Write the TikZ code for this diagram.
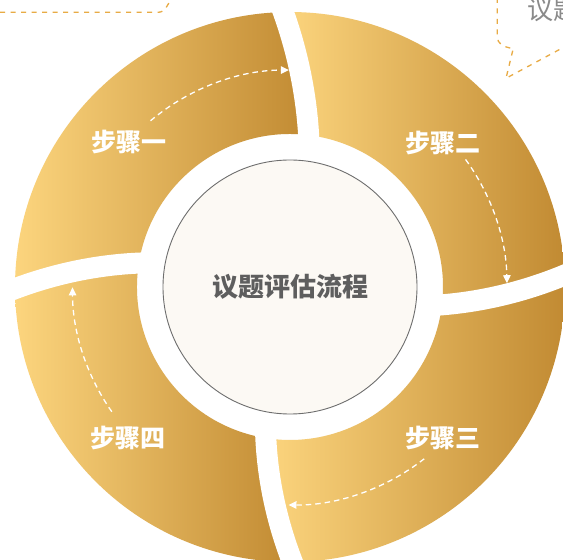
\documentclass[tikz,border=0pt]{standalone}
\usepackage{fontspec}
\newfontfamily\cjk{Noto Sans CJK SC}
\usetikzlibrary{arrows.meta}
\definecolor{segL}{HTML}{FCD57E}
\definecolor{segD}{HTML}{C18A32}
\definecolor{coreFill}{HTML}{FCF9F4}
\definecolor{coreLine}{HTML}{6E6E6E}
\definecolor{coreText}{HTML}{5E5E5E}
\definecolor{calloutLine}{HTML}{E8AB45}
\definecolor{calloutText}{HTML}{8A8A8A}
\newcommand{\ringseg}[4]{%
  \shade[segshade] plot[domain=0:1,samples=24] ({#1+(#2-#1)*\x}:{153+122*\x})
    arc[start angle=#2, end angle=#4, radius=275pt]
    -- plot[domain=0:1,samples=24] ({#4-(#4-#3)*\x}:{275-122*\x})
    arc[start angle=#3, end angle=#1, radius=153pt] -- cycle;}
\newcommand{\gapline}[2]{%
  \draw[gapstyle] plot[domain=-0.12:1.12,samples=30] ({#1+(#2-#1)*\x}:{153+122*\x});}
\tikzset{
  segshade/.style={left color=segL, right color=segD},
  gapstyle/.style={white, line width=21pt},
  steplabel/.style={text=white, inner sep=0pt, font=\cjk\bfseries\fontsize{25}{25}\selectfont},
  core/.style={circle, draw=coreLine, line width=0.9pt, fill=coreFill, minimum size=254pt, inner sep=0pt,
    text=coreText, font=\cjk\bfseries\fontsize{26}{26}\selectfont},
  flowarr/.style={white, line width=1.3pt, dash pattern=on 5.5pt off 4pt, -{Triangle[length=8pt,width=7.5pt]}},
  callout/.style={calloutLine, line width=1.3pt, dash pattern=on 5pt off 5.5pt},
}
\begin{document}
\begin{tikzpicture}[x=1pt,y=1pt]
\useasboundingbox (0,0) rectangle (563,560);
\clip (0,0) rectangle (563,560);
\fill[white] (0,0) rectangle (563,560);
\begin{scope}[shift={(290,273)}]
  % ring segments
  \ringseg{-6.7}{2.5}{83}{91.4}
  \ringseg{83}{91.4}{171}{180.35}
  \ringseg{171}{180.35}{260.9}{270.5}
  \ringseg{260.9}{270.5}{353.3}{362.5}
  % gaps
  \gapline{83}{91.4}
  \gapline{-6.7}{2.5}
  \gapline{260.9}{270.5}
  \gapline{171}{180.35}
  % centre
  \node[core] (core) at (0,0) {议题评估流程};
  % labels
  \node[steplabel] (s1) at (-161.5,144.5) {步骤一};
  \node[steplabel] (s2) at (153.3,143.7) {步骤二};
  \node[steplabel] (s3) at (153.3,-151.3) {步骤三};
  \node[steplabel] (s4) at (-161.7,-151.3) {步骤四};
  % arrows
  \draw[flowarr] (130:217) arc[start angle=130, end angle=90.3, radius=217pt];
  \draw[flowarr] (36:217) arc[start angle=36, end angle=1, radius=217pt];
  \draw[flowarr] (-52:218) arc[start angle=-52, end angle=-90.4, radius=218pt];
  \draw[flowarr] (215:217.5) arc[start angle=215, end angle=180.1, radius=217.5pt];
\end{scope}
% callouts
\draw[callout] (0,547.7) -- (158,547.7) to[out=0,in=-120] (171,561);
\draw[callout] (497.3,562) -- (497.3,523) to[out=-90,in=170] (510,512) -- (513.3,511.7) -- (506,481.7) -- (566,514);
\node[anchor=base west, inner sep=0pt, text=calloutText, font=\cjk\fontsize{26}{26}\selectfont] (t1) at (527,540) {议题评估};
\end{tikzpicture}
\end{document}
